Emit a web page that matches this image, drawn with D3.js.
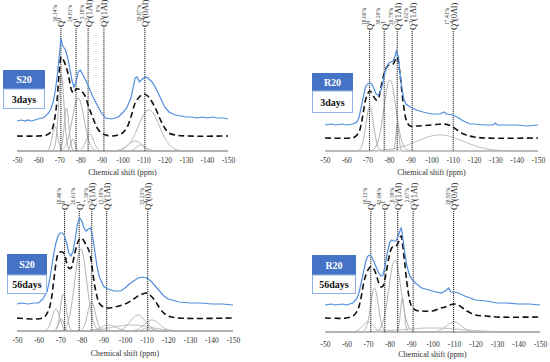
<!DOCTYPE html>
<html>
<head>
<meta charset="utf-8">
<script src="https://cdn.jsdelivr.net/npm/d3@7"></script>
<style>
  body { margin: 0; background: #fff; }
  text { font-family: "Liberation Serif", "Times New Roman", serif; }
</style>
</head>
<body>
<div id="chartContainer"></div>
<script>
// x ticks (ppm)
const tickValues = [-50, -60, -70, -80, -90, -100, -110, -120, -130, -140, -150];
// reference line names: [base, superscript, rest]
const lineNames = [["Q", "0", ""], ["Q", "1", ""], ["Q", "2", "(1Al)"], ["Q", "3", "(1Al)"], ["Q", "4", "(0Al)"]];

// ---- S20 3days ----
const s20d3Exp = [[-50,30],[-52,31],[-54,30],[-55,31],[-57,30],[-60,32],[-62,33],[-63,34],[-65,38],[-66,42],[-67,48],[-68,58],[-69,74],[-70,94],[-70.8,113],[-71.5,106],[-72,104],[-73,101],[-74,93],[-75,83],[-76,71],[-77,64],[-78,69],[-79,79],[-80,81],[-81,77],[-82,73],[-84,64],[-86,54],[-88,46],[-90,38],[-92,33],[-95,32],[-98,34],[-100,38],[-102,43],[-104,53],[-105,63],[-106,73],[-107,74],[-108,69],[-109,71],[-110,73],[-111,74],[-112,73],[-114,69],[-116,62],[-118,53],[-120,44],[-122,39],[-125,36],[-128,35],[-130,34],[-133,34],[-135,33],[-138,34],[-140,33],[-143,34],[-145,33],[-148,33],[-150,32]];
const s20d3Fit = [[-50,15],[-60,15],[-64,16],[-66,19],[-67,24],[-68,34],[-69,51],[-70,79],[-71,94],[-72,91],[-73,86],[-74,79],[-75,69],[-76,60],[-77,58],[-78,62],[-79,62],[-80,61],[-82,56],[-84,44],[-86,33],[-88,23],[-90,18],[-92,16],[-95,15],[-98,16],[-100,18],[-102,23],[-104,34],[-106,48],[-108,54],[-110,57],[-112,55],[-114,49],[-116,41],[-118,31],[-120,23],[-122,18],[-125,16],[-130,15],[-150,15]];
const s20d3Peaks = [[-68,25,1.3],[-71,76,1.3],[-73.5,43,1.1],[-76.5,12,1],[-79,53,2.8],[-84.5,17,1.8],[-106,10,3.5],[-108.5,6,2],[-112.5,41,5]];
const s20d3Lines = [-70.8, -78, -83.7, -91.2, -110.6];
const s20d3Pct = ["30.14%", "24.81%", "5.18%", "0%", "39.87%"];

// ---- R20 3days ----
const r20d3Exp = [[-50,26],[-53,27],[-55,26],[-58,27],[-60,26],[-63,27],[-65,29],[-66,34],[-67,44],[-68,54],[-69,64],[-70,67],[-71,68],[-72,67],[-73,62],[-74,57],[-75,56],[-76,59],[-77,67],[-78,77],[-79,84],[-80,88],[-81,89],[-82,90],[-83,96],[-83.5,100],[-84.5,94],[-85,81],[-86,64],[-87,52],[-88,47],[-90,44],[-93,41],[-96,39],[-100,37],[-104,37],[-106,39],[-107,37],[-110,36],[-112,34],[-115,30],[-118,27],[-120,27],[-125,26],[-129,26],[-130,28],[-131,26],[-135,26],[-140,26],[-145,25],[-150,26]];
const r20d3Fit = [[-50,13],[-62,13],[-64,14],[-66,19],[-67,27],[-68,39],[-69,51],[-70,57],[-71,60],[-72,58],[-73,54],[-74,51],[-75,52],[-76,61],[-77,71],[-78,79],[-79,84],[-80,86],[-81,86],[-82,87],[-83,91],[-83.8,94],[-85,81],[-86,61],[-87,44],[-88,32],[-89,27],[-90,25],[-93,25],[-100,26],[-105,27],[-108,26],[-110,24],[-112,21],[-115,17],[-118,15],[-120,14],[-125,13],[-150,13]];
const r20d3Peaks = [[-71,44,1.8],[-80.5,71,2.8],[-84,27,0.7],[-104,16,11]];
const r20d3Lines = [-70.9, -77.8, -83.9, -90.9, -110.2];
const r20d3Pct = ["18.60%", "38.20%", "20.79%", "4.62%", "17.41%"];

// ---- S20 56days ----
const s20d56Exp = [[-50,27],[-52,28],[-55,27],[-58,28],[-60,28],[-62,32],[-64,40],[-65,50],[-66,63],[-67,77],[-68,88],[-69,95],[-70,98],[-71,98],[-72,95],[-73,88],[-74,78],[-75,75],[-76,80],[-77,93],[-78,107],[-79,113],[-80,110],[-81,103],[-82,100],[-83,102],[-84,103],[-85,95],[-86,80],[-87,65],[-88,55],[-90,45],[-92,42],[-95,40],[-98,40],[-100,43],[-102,47],[-104,50],[-106,53],[-108,54],[-110,53],[-112,50],[-114,45],[-116,40],[-118,35],[-120,32],[-125,29],[-130,28],[-135,28],[-140,27],[-145,27],[-150,26]];
const s20d56Fit = [[-50,13],[-62,13],[-64,18],[-65,23],[-66,33],[-67,50],[-68,67],[-69,77],[-70,79],[-71,79],[-72,77],[-73,68],[-74,63],[-75,63],[-76,70],[-77,80],[-78,88],[-79,92],[-80,93],[-81,90],[-82,86],[-83,82],[-84,75],[-85,60],[-86,45],[-87,35],[-88,28],[-90,24],[-92,23],[-95,24],[-100,27],[-104,32],[-106,35],[-108,37],[-110,38],[-112,35],[-114,30],[-116,23],[-118,18],[-120,15],[-125,13],[-150,13]];
const s20d56Peaks = [[-68,22,1.8],[-70.5,12,1.2],[-71.5,37,1.4],[-79.5,82,2.8],[-84.5,29,1.8],[-92.5,6,3.5],[-103,6,9],[-106,16,3.5],[-110.5,3,2],[-112.5,11,3.5]];
const s20d56Lines = [-72, -78.8, -84.6, -91.5, -110.5];
const s20d56Pct = ["18.48%", "26.61%", "7.30%", "15.19%", "33.23%"];

// ---- R20 56days ----
const r20d56Exp = [[-50,27],[-53,28],[-55,27],[-58,28],[-60,27],[-63,29],[-65,34],[-66,41],[-67,51],[-68,61],[-69,71],[-70,76],[-71,77],[-72,74],[-73,69],[-74,64],[-75,59],[-76,56],[-77,57],[-78,67],[-79,79],[-80,89],[-81,92],[-82,91],[-83,91],[-84,96],[-85,102],[-85.5,104],[-86,97],[-87,81],[-88,67],[-89,59],[-90,54],[-92,49],[-95,44],[-100,41],[-104,39],[-106,41],[-107.5,44],[-108.5,40],[-110,40],[-112,39],[-115,36],[-120,32],[-125,31],[-130,29],[-135,29],[-140,28],[-145,28],[-150,27]];
const r20d56Fit = [[-50,14],[-60,14],[-63,16],[-65,21],[-66,27],[-67,37],[-68,49],[-69,57],[-70,62],[-71,65],[-72,65],[-73,62],[-74,56],[-75,49],[-76,45],[-77,46],[-78,54],[-79,66],[-80,77],[-81,84],[-82,86],[-83,86],[-84,89],[-85,95],[-85.5,96],[-86,89],[-87,71],[-88,51],[-89,36],[-90,27],[-92,22],[-95,21],[-100,21],[-104,24],[-106,25],[-108,27],[-110,28],[-112,27],[-114,24],[-116,21],[-120,17],[-125,16],[-130,15],[-150,15]];
const r20d56Peaks = [[-70,10,2.5],[-73,44,1.8],[-82.5,72,2.8],[-86,34,0.9],[-100,4,14],[-110,10,3.5]];
const r20d56Lines = [-71.3, -77.8, -83.8, -91, -109.8];
const r20d56Pct = ["18.12%", "42.04%", "8.39%", "2.67%", "28.93%"];

const panels = [
  { name: "S20", age: "3days", exp: s20d3Exp, fit: s20d3Fit, peaks: s20d3Peaks, lines: s20d3Lines, pct: s20d3Pct,
    x0: 17, x1: 228, base: 151, top: 28, tickY: 163, titleY: 175, box: { x: 3, y: 70, w: 42, h1: 19, h2: 20 } },
  { name: "R20", age: "3days", exp: r20d3Exp, fit: r20d3Fit, peaks: r20d3Peaks, lines: r20d3Lines, pct: r20d3Pct,
    x0: 325, x1: 538, base: 151, top: 31, tickY: 163, titleY: 175, box: { x: 312, y: 73, w: 41, h1: 18, h2: 22 } },
  { name: "S20", age: "56days", exp: s20d56Exp, fit: s20d56Fit, peaks: s20d56Peaks, lines: s20d56Lines, pct: s20d56Pct,
    x0: 17, x1: 233, base: 331, top: 211, tickY: 343, titleY: 356, box: { x: 7, y: 254, w: 40, h1: 21, h2: 19 } },
  { name: "R20", age: "56days", exp: r20d56Exp, fit: r20d56Fit, peaks: r20d56Peaks, lines: r20d56Lines, pct: r20d56Pct,
    x0: 325, x1: 540, base: 332, top: 211, tickY: 347, titleY: 357, box: { x: 312, y: 255, w: 44, h1: 20, h2: 19 } }
];

const W = 550, H = 362;
const svg = d3.select("#chartContainer").append("svg")
  .attr("width", W).attr("height", H);

panels.forEach(p => {
  const g = svg.append("g");
  const x = d3.scaleLinear().domain([-50, -150]).range([p.x0, p.x1]);
  const y = d3.scaleLinear().domain([0, 130]).range([p.base, p.base - 130]);

  // fitted component peaks (center, height, width)
  const ppmGrid = d3.range(-50, -150.01, -0.25);
  p.peaks.forEach(pk => {
    const pts = ppmGrid.map(v => [v, pk[1] * Math.exp(-((v - pk[0]) ** 2) / (2 * pk[2] * pk[2]))]);
    g.append("path")
      .datum(pts)
      .attr("d", d3.line().x(d => x(d[0])).y(d => y(d[1])))
      .style("fill", "none")
      .style("stroke", "#b3b3b3")
      .style("stroke-width", 1);
  });

  // reference lines
  p.lines.forEach((v, i) => {
    g.append("line")
      .attr("x1", x(v)).attr("x2", x(v))
      .attr("y1", p.top).attr("y2", p.base)
      .style("stroke", "#3a3a3a")
      .style("stroke-width", 1.1)
      .style("stroke-dasharray", "1.2,0.8");

    const lbl = g.append("text")
      .attr("transform", `translate(${x(v) + 3.5},${p.top - 1}) rotate(-90)`)
      .style("font-size", "8.5px")
      .style("fill", "#111");
    lbl.append("tspan").text(lineNames[i][0]);
    lbl.append("tspan").attr("dy", -3).style("font-size", "5.5px").text(lineNames[i][1]);
    lbl.append("tspan").attr("dy", 3).text(lineNames[i][2]);

    g.append("text")
      .attr("transform", `translate(${x(v) - 4},${p.top - 23}) rotate(-90)`)
      .style("text-anchor", "end")
      .style("font-size", "5.5px")
      .style("fill", "#444")
      .text(p.pct[i]);
  });

  // fitted envelope (dashed)
  g.append("path")
    .datum(p.fit)
    .attr("d", d3.line().x(d => x(d[0])).y(d => y(d[1])).curve(d3.curveCatmullRom))
    .style("fill", "none")
    .style("stroke", "#111")
    .style("stroke-width", 1.6)
    .style("stroke-dasharray", "6,3.5");

  // experimental spectrum
  g.append("path")
    .datum(p.exp)
    .attr("d", d3.line().x(d => x(d[0])).y(d => y(d[1])))
    .style("fill", "none")
    .style("stroke", "#4f8ddc")
    .style("stroke-width", 1.2);

  // x axis tick labels
  const axis = g.append("g")
    .attr("transform", `translate(0,${p.tickY - 8})`)
    .call(d3.axisBottom(x).tickValues(tickValues).tickSize(0).tickFormat(d => String(d)));
  axis.select(".domain").remove();
  axis.selectAll("text")
    .style("font-family", "Liberation Serif, serif")
    .style("font-size", "7.5px")
    .style("fill", "#333");

  g.append("text")
    .attr("x", (p.x0 + p.x1) / 2)
    .attr("y", p.titleY)
    .style("text-anchor", "middle")
    .style("font-size", "8px")
    .style("fill", "#333")
    .text("Chemical shift (ppm)");

  // sample box
  const b = p.box;
  g.append("rect")
    .attr("x", b.x).attr("y", b.y).attr("width", b.w).attr("height", b.h1)
    .style("fill", "#4472c4");
  g.append("rect")
    .attr("x", b.x + 0.5).attr("y", b.y + b.h1).attr("width", b.w - 1).attr("height", b.h2 - 0.5)
    .style("fill", "#fff")
    .style("stroke", "#8fb3e6")
    .style("stroke-width", 1);
  g.append("text")
    .attr("x", b.x + b.w / 2).attr("y", b.y + b.h1 / 2 + 3.5)
    .style("text-anchor", "middle")
    .style("font-size", "10px")
    .style("font-weight", "bold")
    .style("fill", "#fff")
    .text(p.name);
  g.append("text")
    .attr("x", b.x + b.w / 2).attr("y", b.y + b.h1 + b.h2 / 2 + 3.5)
    .style("text-anchor", "middle")
    .style("font-size", "10px")
    .style("font-weight", "bold")
    .style("fill", "#111")
    .text(p.age);
});
</script>
</body>
</html>
